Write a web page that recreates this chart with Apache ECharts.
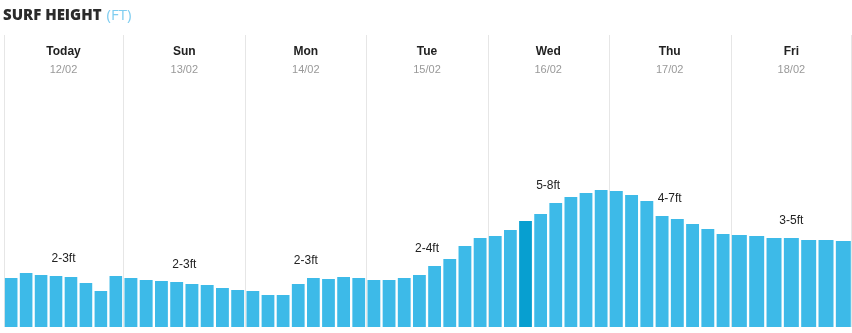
<!DOCTYPE html>
<html>
<head>
<meta charset="utf-8">
<script src="https://cdn.jsdelivr.net/npm/echarts@6/dist/echarts.min.js"></script>
<style>html,body{margin:0;padding:0;background:#fff}#c{width:852px;height:333px}</style>
</head>
<body>
<div id="c"></div>
<script>
// ---- data ----
const days = ['Today', 'Sun', 'Mon', 'Tue', 'Wed', 'Thu', 'Fri'];
const dates = ['12/02', '13/02', '14/02', '15/02', '16/02', '17/02', '18/02'];
const ranges = ['2-3ft', '2-3ft', '2-3ft', '2-4ft', '5-8ft', '4-7ft', '3-5ft'];
const hoursToday = ['00', '03', '06', '09', '12', '15', '18', '21'];
const hoursFri = ['00', '03', '06', '09', '12', '15', '18'];
const surfToday = [2.45, 2.7, 2.6, 2.55, 2.5, 2.2, 1.8, 2.55];
const surfSun = [2.45, 2.35, 2.3, 2.25, 2.15, 2.1, 1.95, 1.85];
const surfMon = [1.8, 1.6, 1.6, 2.15, 2.45, 2.4, 2.5, 2.45];
const surfTue = [2.35, 2.35, 2.45, 2.6, 3.05, 3.4, 4.05, 4.45];
const surfWed = [4.55, 4.85, 5.3, 5.65, 6.2, 6.5, 6.7, 6.85];
const surfThu = [6.8, 6.6, 6.3, 5.55, 5.4, 5.15, 4.9, 4.65];
const surfFri = [4.6, 4.55, 4.45, 4.45, 4.35, 4.35, 4.3];
const currentDay = 4, currentSlot = 2;

const surfByDay = [surfToday, surfSun, surfMon, surfTue, surfWed, surfThu, surfFri];

// ---- layout ----
const colEdges = [3.7, 123.3, 245.3, 366.3, 487.7, 608.7, 730.7, 852];
const gridTop = 127, gridBottom = 6, yMax = 10;
const barColor = '#3dbae8', barColorNow = '#079fd0';

const chart = echarts.init(document.getElementById('c'), null, {renderer: 'canvas'});

const grids = [], xAxes = [], yAxes = [], series = [];
surfByDay.forEach((vals, i) => {
  const left = colEdges[i], width = colEdges[i + 1] - colEdges[i];
  const band = width / vals.length;
  grids.push({left: left, width: width, top: gridTop, bottom: gridBottom, containLabel: false});
  xAxes.push({type: 'category', gridIndex: i, data: vals.length === 8 ? hoursToday : hoursFri,
    axisLine: {show: false}, axisTick: {show: false}, axisLabel: {show: false}, splitLine: {show: false}});
  yAxes.push({type: 'value', gridIndex: i, min: 0, max: yMax,
    axisLine: {show: false}, axisTick: {show: false}, axisLabel: {show: false}, splitLine: {show: false}});
  series.push({
    type: 'bar', xAxisIndex: i, yAxisIndex: i, barWidth: band - 2.35, silent: true,
    itemStyle: {color: barColor},
    data: vals.map((v, j) => (i === currentDay && j === currentSlot) ? {value: v, itemStyle: {color: barColorNow}} : v)
  });
});

chart.setOption({
  animation: false,
  title: {
    left: 3, top: 7, padding: 0,
    text: '{a|SURF HEIGHT} {b|(FT)}',
    textStyle: {rich: {
      a: {fontFamily: 'Open Sans', fontWeight: 800, fontSize: 15, color: '#2b2b2b'},
      b: {fontFamily: 'Open Sans', fontWeight: 400, fontSize: 15, color: '#7fcdf0'}
    }}
  },
  grid: grids, xAxis: xAxes, yAxis: yAxes, series: series
});

// ---- column dividers, headers, range labels ----
const els = [];
const dividerXs = colEdges.slice(0, 7).concat([851]);
dividerXs.forEach(x => {
  const px = Math.round(x) + 0.5;
  els.push({type: 'line', silent: true, shape: {x1: px, y1: 35, x2: px, y2: 327},
    style: {stroke: '#e6e6e6', lineWidth: 1}, z: 0});
});
days.forEach((d, i) => {
  const cx = (colEdges[i] + colEdges[i + 1]) / 2;
  els.push({type: 'text', x: cx, y: 52, style: {text: d, font: 'bold 12px "Liberation Sans", Arial, sans-serif',
    fill: '#222', align: 'center', verticalAlign: 'middle', textAlign: 'center', textVerticalAlign: 'middle'}});
  els.push({type: 'text', x: cx, y: 70, style: {text: dates[i], font: '11px "Liberation Sans", Arial, sans-serif',
    fill: '#999', align: 'center', verticalAlign: 'middle', textAlign: 'center', textVerticalAlign: 'middle'}});
  // range label sits above the bars at the centre of the day
  const vals = surfByDay[i];
  const a = Math.floor((vals.length - 1) / 2), b = Math.ceil((vals.length - 1) / 2);
  let m = 0; for (let k = a - (vals.length % 2); k <= b + (vals.length % 2); k++) m = Math.max(m, vals[k]);
  const py = chart.convertToPixel({yAxisIndex: i}, m + 0.88);
  els.push({type: 'text', x: cx, y: py, style: {text: ranges[i], font: '12px "Liberation Sans", Arial, sans-serif',
    fill: '#222', align: 'center', verticalAlign: 'middle', textAlign: 'center', textVerticalAlign: 'middle'}, z: 10});
});
chart.setOption({graphic: {elements: els}});
</script>
</body>
</html>
